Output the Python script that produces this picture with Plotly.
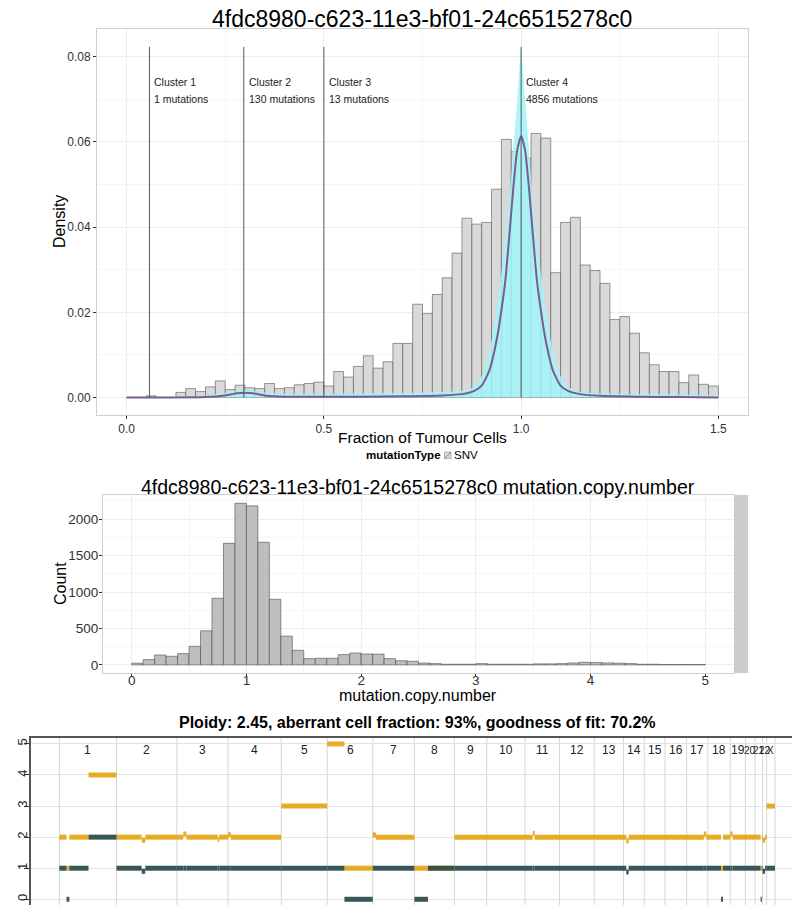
import plotly.graph_objects as go

W, H = 792, 905
FONT = "Liberation Sans"

# ---------------- Panel 1: cancer cell fraction ----------------
ccf_bin_width = 0.025
ccf_density = [
    0.0, 0.0, 0.0004, 0.0, 0.0, 0.0012, 0.0021, 0.0014, 0.0025, 0.0039,
    0.0019, 0.0029, 0.0023, 0.0021, 0.0033, 0.0021, 0.0023, 0.0030, 0.0033, 0.0036,
    0.0027, 0.0061, 0.0048, 0.0073, 0.0098, 0.0069, 0.0084, 0.0127, 0.0127, 0.0219,
    0.0197, 0.0242, 0.0281, 0.0339, 0.0421, 0.0407, 0.0411, 0.0489, 0.0606, 0.0577,
    0.0562, 0.0620, 0.0609, 0.0293, 0.0411, 0.0423, 0.0311, 0.0298, 0.0268, 0.0183,
    0.0190, 0.0151, 0.0105, 0.0077, 0.0061, 0.0061, 0.0035, 0.0053, 0.0031, 0.0027,
]

# posterior mean density of the fitted mixture
mean_x = [0, 0.1, 0.2, 0.25, 0.28, 0.3, 0.32, 0.35, 0.4, 0.5, 0.6, 0.7, 0.8, 0.85,
          0.88, 0.9, 0.92, 0.94, 0.95, 0.96, 0.97, 0.98, 0.99, 1.0, 1.01, 1.02, 1.03,
          1.04, 1.05, 1.06, 1.08, 1.1, 1.12, 1.15, 1.2, 1.3, 1.4, 1.5]
mean_y = [0, 0, 0.0001, 0.0005, 0.0010, 0.0011, 0.0010, 0.0005, 0.0002, 0.0002,
          0.0002, 0.0003, 0.0005, 0.0008, 0.0015, 0.0028, 0.0065, 0.0145, 0.0205,
          0.0275, 0.0380, 0.0490, 0.0580, 0.0614, 0.0580, 0.0490, 0.0380, 0.0275,
          0.0205, 0.0145, 0.0065, 0.0028, 0.0015, 0.0008, 0.0004, 0.0002, 0.0001, 0.0]

# upper edge of the credible band
band_x = [0, 0.1, 0.2, 0.25, 0.3, 0.35, 0.4, 0.5, 0.6, 0.7, 0.8, 0.85, 0.88, 0.9,
          0.92, 0.94, 0.955, 0.97, 0.98, 0.99, 0.995, 1.0, 1.005, 1.01, 1.02, 1.03,
          1.045, 1.06, 1.08, 1.1, 1.12, 1.15, 1.2, 1.3, 1.4, 1.5]
band_hi = [0.0002, 0.0002, 0.0005, 0.0011, 0.0017, 0.0012, 0.0009, 0.0009, 0.0010,
           0.0011, 0.0013, 0.0016, 0.0025, 0.0050, 0.0110, 0.0220, 0.0330, 0.0460,
           0.0580, 0.0700, 0.0765, 0.0823, 0.0765, 0.0700, 0.0580, 0.0460, 0.0330,
           0.0220, 0.0110, 0.0050, 0.0025, 0.0013, 0.0010, 0.0008, 0.0007, 0.0006]

cluster_pos = [0.058, 0.297, 0.5, 1.0]
cluster_n = [1, 130, 13, 4856]

# ---------------- Panel 2: mutation copy number ----------------
mcn_bin_width = 0.1
mcn_counts = [
    23, 73, 136, 118, 155, 255, 468, 914, 1668, 2218,
    2182, 1682, 900, 395, 200, 86, 91, 91, 141, 163,
    150, 148, 86, 57, 50, 25, 18, 9, 9, 9,
    18, 9, 9, 9, 9, 14, 14, 18, 27, 36,
    32, 27, 23, 18, 9, 9, 5, 5, 5, 5,
]

# ---------------- Panel 3: allele-specific copy number profile ----------------
chrom_names = [str(i) for i in range(1, 23)] + ["X"]
chrom_ends = [143, 294, 422, 555, 670, 784, 888, 988, 1069, 1165, 1251, 1338,
              1411, 1463, 1515, 1569, 1622, 1678, 1716, 1740, 1759, 1769, 1790]
seg_start = [0, 18, 25, 73, 143, 206, 215, 294, 310, 318, 396, 400, 422, 429,
             555, 670, 713, 784, 792, 888, 922, 988, 1184, 1189, 1418, 1424,
             1612, 1618, 1655, 1660, 1678, 1684, 1754, 1757, 1759, 1765, 1769]
seg_end = [18, 25, 73, 143, 206, 215, 294, 310, 318, 396, 400, 422, 429, 555,
           670, 713, 784, 792, 888, 922, 988, 1184, 1189, 1418, 1424, 1612,
           1618, 1655, 1660, 1678, 1684, 1754, 1757, 1759, 1765, 1769, 1790]
seg_major = [2, 1, 2, 4, 2, 1.9, 2, 2, 2.1, 2, 1.93, 2, 2.08, 2,
             3, 5, 1, 2.07, 2, 1, 1, 2, 2.12, 2, 1.88, 2,
             2.1, 2, 1, 2, 2.1, 2, 1, 2, 1.9, 2, 3]
seg_minor = [1, 0, 1, 2, 1, 0.9, 1, 1, 1, 1, 1, 1, 1, 1,
             1, 1, 0, 1, 1, 0, 1, 1, 1, 1, 0.88, 1,
             1, 1, 0, 1, 1, 1, 0, 1, 0.9, 1, 1]
plot_title = "Ploidy: 2.45, aberrant cell fraction: 93%, goodness of fit: 70.2%"
sample_id = "4fdc8980-c623-11e3-bf01-24c6515278c0"


def px(x):
    return x / W


def py(y):
    return 1 - y / H


fig = go.Figure()

# --- panel 1 traces ---
ccf_centers = [ccf_bin_width * (i + 0.5) for i in range(len(ccf_density))]
fig.add_trace(go.Bar(
    x=ccf_centers, y=ccf_density, width=ccf_bin_width,
    marker=dict(color="#D9D9D9", line=dict(color="#555555", width=0.6)),
    xaxis="x", yaxis="y", showlegend=False, hoverinfo="skip"))
fig.add_trace(go.Scatter(
    x=band_x, y=band_hi, mode="lines", fill="tozeroy",
    fillcolor="rgba(160,245,248,0.85)",
    line=dict(width=0, shape="spline", smoothing=0.6),
    xaxis="x", yaxis="y", showlegend=False, hoverinfo="skip"))
fig.add_trace(go.Scatter(
    x=mean_x, y=mean_y, mode="lines",
    line=dict(color="#7A5C8E", width=2, shape="spline", smoothing=0.6),
    xaxis="x", yaxis="y", showlegend=False, hoverinfo="skip"))
line_top = max(band_hi)
cl_x, cl_y = [], []
for p in cluster_pos:
    cl_x += [p, p, None]
    cl_y += [0, line_top, None]
fig.add_trace(go.Scatter(
    x=cl_x, y=cl_y, mode="lines", line=dict(color="#5A5A5A", width=1),
    xaxis="x", yaxis="y", showlegend=False, hoverinfo="skip"))

annotations = []
for i, (p, n) in enumerate(zip(cluster_pos, cluster_n)):
    annotations.append(dict(x=p, y=0.0741, xref="x", yref="y", xanchor="left",
                            yanchor="middle", xshift=3, showarrow=False,
                            text=f"Cluster {i + 1}",
                            font=dict(family=FONT, size=10.5, color="#222222")))
    annotations.append(dict(x=p, y=0.0700, xref="x", yref="y", xanchor="left",
                            yanchor="middle", xshift=3, showarrow=False,
                            text=f"{n} mutations",
                            font=dict(family=FONT, size=10.5, color="#222222")))

# --- panel 2 traces ---
mcn_centers = [mcn_bin_width * (i + 0.5) for i in range(len(mcn_counts))]
fig.add_trace(go.Bar(
    x=mcn_centers, y=mcn_counts, width=mcn_bin_width,
    marker=dict(color="#BEBEBE", line=dict(color="#4D4D4D", width=0.6)),
    xaxis="x2", yaxis="y2", showlegend=False, hoverinfo="skip"))

# --- panel 3 traces ---
maj_x, maj_y, min_x, min_y = [], [], [], []
for s, e, ma, mi in zip(seg_start, seg_end, seg_major, seg_minor):
    maj_x += [s, e, None]
    maj_y += [ma, ma, None]
    min_x += [s, e, None]
    min_y += [mi, mi, None]
fig.add_trace(go.Scatter(
    x=maj_x, y=maj_y, mode="lines", line=dict(color="#E69F00", width=5),
    xaxis="x3", yaxis="y3", showlegend=False, hoverinfo="skip", opacity=0.85))
fig.add_trace(go.Scatter(
    x=min_x, y=min_y, mode="lines", line=dict(color="#2F4F4F", width=5),
    xaxis="x3", yaxis="y3", showlegend=False, hoverinfo="skip", opacity=0.95))

shapes = []
chrom_starts = [0] + chrom_ends[:-1]
for b in [0] + chrom_ends:
    shapes.append(dict(type="line", xref="x3", yref="y3 domain", x0=b, x1=b,
                       y0=0, y1=1, line=dict(color="#D6D6D6", width=1), layer="below"))
for name, s, e in zip(chrom_names, chrom_starts, chrom_ends):
    small = (e - s) < 30
    annotations.append(dict(x=(s + e) / 2, y=4.79, xref="x3", yref="y3",
                            showarrow=False, text=name,
                            font=dict(family=FONT, size=10 if small else 12,
                                      color="#222222")))

# right-hand strip of the copy-number panel
shapes.append(dict(type="rect", xref="paper", yref="paper",
                   x0=px(734), x1=px(748), y0=py(673), y1=py(495),
                   fillcolor="#CCCCCC", line=dict(width=0)))

# legend key for mutation type
shapes.append(dict(type="rect", xref="paper", yref="paper",
                   x0=px(444.5), x1=px(451), y0=py(458.5), y1=py(452),
                   fillcolor="#D9D9D9", line=dict(color="#8A8A8A", width=0.6)))
shapes.append(dict(type="line", xref="paper", yref="paper",
                   x0=px(444.5), x1=px(451), y0=py(458.5), y1=py(452),
                   line=dict(color="#555555", width=0.6)))

# titles and axis labels
text_items = [
    (sample_id, 422, 19, 23, 0),
    ("Density", 60, 222, 16, -90),
    ("Fraction of Tumour Cells", 422, 437, 15.5, 0),
    (sample_id + " mutation.copy.number", 418, 487, 19.5, 0),
    ("Count", 60, 584, 16, -90),
    ("mutation.copy.number", 418, 695, 16, 0),
]
for t, x, y, s, ang in text_items:
    annotations.append(dict(x=px(x), y=py(y), xref="paper", yref="paper",
                            showarrow=False, text=t, textangle=ang,
                            xanchor="center", yanchor="middle",
                            font=dict(family=FONT, size=s, color="#000000")))
annotations.append(dict(x=px(443), y=py(455), xref="paper", yref="paper",
                        showarrow=False, text="<b>mutationType</b>",
                        xanchor="right", yanchor="middle",
                        font=dict(family=FONT, size=11.5, color="#000000")))
annotations.append(dict(x=px(452), y=py(455), xref="paper", yref="paper",
                        showarrow=False, text="SNV",
                        xanchor="left", yanchor="middle",
                        font=dict(family=FONT, size=11.5, color="#000000")))
annotations.append(dict(x=px(417), y=py(722), xref="paper", yref="paper",
                        showarrow=False, text=f"<b>{plot_title}</b>",
                        xanchor="center", yanchor="middle",
                        font=dict(family=FONT, size=16, color="#000000")))

panel_axis = dict(showline=True, mirror=True, linecolor="#CFCFCF", linewidth=1,
                  showgrid=True, gridcolor="#EDEDED", gridwidth=1, zeroline=False,
                  ticks="outside", ticklen=3, tickcolor="#333333", tickwidth=1)
font12 = dict(family=FONT, size=12, color="#333333")
font135 = dict(family=FONT, size=13.5, color="#333333")

fig.update_layout(
    width=W, height=H, margin=dict(l=0, r=0, t=0, b=0),
    paper_bgcolor="white", plot_bgcolor="white", barmode="overlay",
    showlegend=False,
    xaxis=dict(domain=[px(97), px(748)], anchor="y", range=[-0.075, 1.575],
               tickmode="linear", tick0=0, dtick=0.5, tickformat=".1f",
               minor=dict(dtick=0.25, showgrid=True, gridcolor="#F6F6F6"),
               tickfont=font12, **panel_axis),
    yaxis=dict(domain=[py(415), py(29)], anchor="x", range=[-0.0041, 0.0865],
               tickmode="linear", tick0=0, dtick=0.02, tickformat=".2f",
               minor=dict(dtick=0.01, showgrid=True, gridcolor="#F6F6F6"),
               tickfont=font12, **panel_axis),
    xaxis2=dict(domain=[px(103), px(734)], anchor="y2", range=[-0.25, 5.25],
                tickmode="linear", tick0=0, dtick=1, ticklabelstandoff=-8,
                minor=dict(dtick=0.5, showgrid=True, gridcolor="#F6F6F6"),
                tickfont=font135, **panel_axis),
    yaxis2=dict(domain=[py(673), py(495)], anchor="x2", range=[-111, 2331],
                tickmode="linear", tick0=0, dtick=500, ticklabelstandoff=-2,
                minor=dict(dtick=250, showgrid=True, gridcolor="#F6F6F6"),
                tickfont=font135, **panel_axis),
    xaxis3=dict(domain=[px(30.7), 1], anchor="y3", range=[-71.6, 1832.5],
                side="top", showline=True, linecolor="#555555", linewidth=1.5,
                showticklabels=False, ticks="", showgrid=False, zeroline=False),
    yaxis3=dict(domain=[0, py(737.7)], anchor="x3", range=[-0.184, 5.2],
                tickmode="array", tickvals=[0, 1, 2, 3, 4, 5], tickangle=-90,
                ticks="outside", ticklen=5, tickcolor="#333333",
                ticklabelstandoff=-8,
                tickfont=dict(family=FONT, size=13, color="#222222"),
                showline=True, linecolor="#555555", linewidth=1.5,
                showgrid=True, gridcolor="#E3E3E3", zeroline=False),
    shapes=shapes,
    annotations=annotations,
)

fig.write_html("out.html")
